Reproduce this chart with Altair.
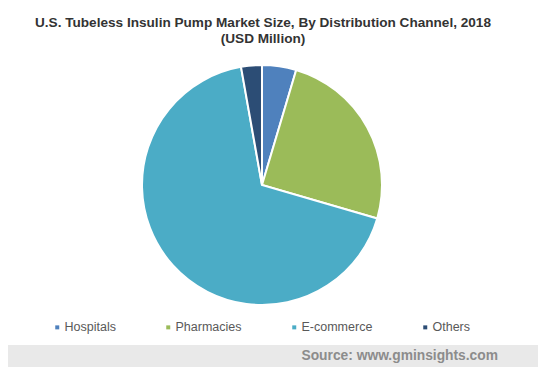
import altair as alt
import pandas as pd

categories = ["Hospitals", "Pharmacies", "E-commerce", "Others"]
values = [4.6, 24.9, 67.7, 2.8]
colors = ["#4F81BD", "#9BBB59", "#4BACC6", "#2C4D75"]
title_text = "U.S. Tubeless Insulin Pump Market Size, By Distribution Channel, 2018\n(USD Million)"
source_text = "Source: www.gminsights.com"

df = pd.DataFrame({"channel": categories, "value": values, "idx": list(range(len(categories)))})

W, H = 530, 359

band = alt.Chart(pd.DataFrame({"a": [0]})).mark_rect(color="#E9E9E9").encode(
    x=alt.value(0), x2=alt.value(W), y=alt.value(337), y2=alt.value(H)
)

pie = alt.Chart(df).mark_arc(radius=120, stroke="white", strokeWidth=2).encode(
    theta=alt.Theta("value:Q", stack=True),
    order=alt.Order("idx:Q"),
    color=alt.Color(
        "channel:N",
        scale=alt.Scale(domain=categories, range=colors),
        sort=categories,
        legend=alt.Legend(
            title=None,
            orient="none",
            legendX=43,
            legendY=313,
            direction="horizontal",
            symbolType="square",
            symbolSize=16,
            symbolStrokeWidth=0,
            labelFont="Liberation Sans",
            labelFontSize=12.5,
            labelColor="#595959",
            labelOffset=1,
            columnPadding=46,
            padding=0,
        ),
    ),
    x=alt.value(254),
    y=alt.value(177),
)

title = alt.Chart(pd.DataFrame({"t": [title_text]})).mark_text(
    font="Liberation Sans", fontSize=13.6, fontWeight="bold", color="#333333",
    lineBreak="\n", lineHeight=16, baseline="top", align="center",
).encode(text="t:N", x=alt.value(255), y=alt.value(8))

source = alt.Chart(pd.DataFrame({"t": [source_text]})).mark_text(
    font="Liberation Sans", fontSize=13.8, fontWeight="bold", color="#8C8C8C",
    baseline="middle", align="right",
).encode(text="t:N", x=alt.value(490), y=alt.value(348))

chart = alt.layer(band, pie, title, source).properties(
    width=W, height=H, autosize=alt.AutoSizeParams(type="none"), padding=0
).configure_view(stroke=None)

chart.save("out.html", embed_options={"renderer": "svg", "actions": False})
